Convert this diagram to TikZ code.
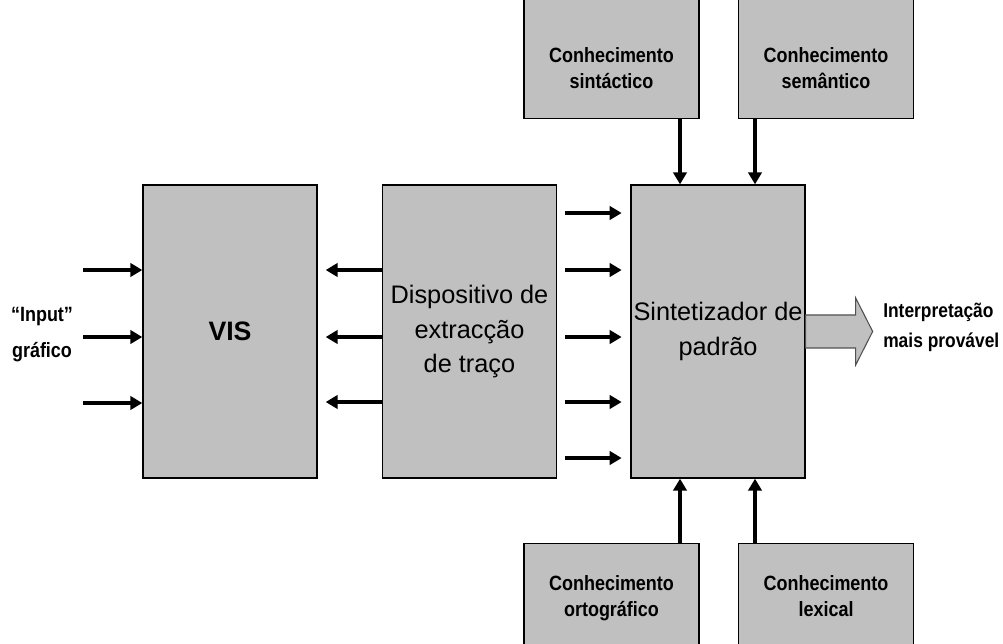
\documentclass[tikz,border=0pt]{standalone}
\usepackage{fontspec}
\setmainfont{Liberation Sans}
\newfontfamily\narrowfont[FakeStretch=0.87]{Liberation Sans}
\usetikzlibrary{arrows.meta}
\definecolor{boxgray}{HTML}{C0C0C0}
\definecolor{edgegray}{HTML}{505050}

\begin{document}
\begin{tikzpicture}[x=0.75pt,y=-0.75pt,
  block/.style={draw,line width=1pt,fill=boxgray,inner sep=0pt,align=center,
    minimum width=130.5pt,minimum height=219.75pt,
    font=\fontsize{19}{26}\selectfont},
  kbox/.style={draw,line width=1pt,fill=boxgray,inner sep=0pt,
    minimum width=131.25pt,minimum height=97.5pt},
  ktext/.style={align=center,inner sep=0pt,anchor=north,
    font=\narrowfont\bfseries\fontsize{15.5}{19.5}\selectfont},
  side/.style={align=center,inner sep=0pt,
    font=\narrowfont\bfseries\fontsize{15.5}{27}\selectfont},
  arr/.style={-{Triangle[length=9pt,width=10pt]},line width=3.2pt},
  bigarr/.style={draw=edgegray,line width=0.8pt,fill=boxgray,line join=miter}]

%frame
  \useasboundingbox (0,0) rectangle (1003,643);
  \clip (0,0) rectangle (1003,643);

%main blocks
  \node[block,font=\fontsize{20}{22}\selectfont\bfseries] (vis) at (230,331.5) {VIS};
  \node[block] (disp) at (469.5,331.5) {Dispositivo de\\extracção\\de traço};
  \node[block] (synth) at (718,331.5) {Sintetizador de\\padrão};

%knowledge boxes
  \node[kbox,anchor=south] (sint) at (611.5,119) {};
  \node[ktext] (sintT) at ([yshift=53.5pt]sint.south) {Conhecimento\\sintáctico};
  \node[kbox,anchor=south] (sem) at (826,119) {};
  \node[ktext] (semT) at ([yshift=53.5pt]sem.south) {Conhecimento\\semântico};
  \node[kbox,anchor=north] (orto) at (611.5,543) {};
  \node[ktext] (ortoT) at ([yshift=-24.5pt]orto.north) {Conhecimento\\ortográfico};
  \node[kbox,anchor=north] (lex) at (826,543) {};
  \node[ktext] (lexT) at ([yshift=-24.5pt]lex.north) {Conhecimento\\lexical};

%side labels
  \node[side] (inp) at (42,335) {“Input”\\gráfico};
  \node[side,align=left,anchor=west,font=\narrowfont\bfseries\fontsize{15}{22.5}\selectfont]
    (interp) at (883,327) {Interpretação\\mais provável};

%input arrows
  \foreach \y [count=\i] in {270,337,403} {
    \coordinate (in\i) at (83,\y);
    \draw[arr] (in\i) -- (in\i -| vis.west); }

%features back to VIS
  \foreach \y in {270,337,402}
    \draw[arr,shorten >=6pt] (disp.west |- 0,\y) -- (vis.east |- 0,\y);

%features into synthesizer
  \foreach \y in {213,270,337,402,458}
    \draw[arr,shorten <=6pt,shorten >=6.5pt] (disp.east |- 0,\y) -- (synth.west |- 0,\y);

%knowledge into synthesizer
  \foreach \x/\n in {680/sint,755/sem}
    \draw[arr] (\n.south -| \x,0) -- (synth.north -| \x,0);
  \foreach \x/\n in {680/orto,755/lex}
    \draw[arr] (\n.north -| \x,0) -- (synth.south -| \x,0);

%output
  \draw[bigarr] ([yshift=12.4pt]synth.east) -- ++(50,0) -- ++(0,-17) -- ++(17,33.5)
    -- ++(-17,33.5) -- ++(0,-17) -- ++(-50,0) -- cycle;

\end{tikzpicture}
\end{document}
